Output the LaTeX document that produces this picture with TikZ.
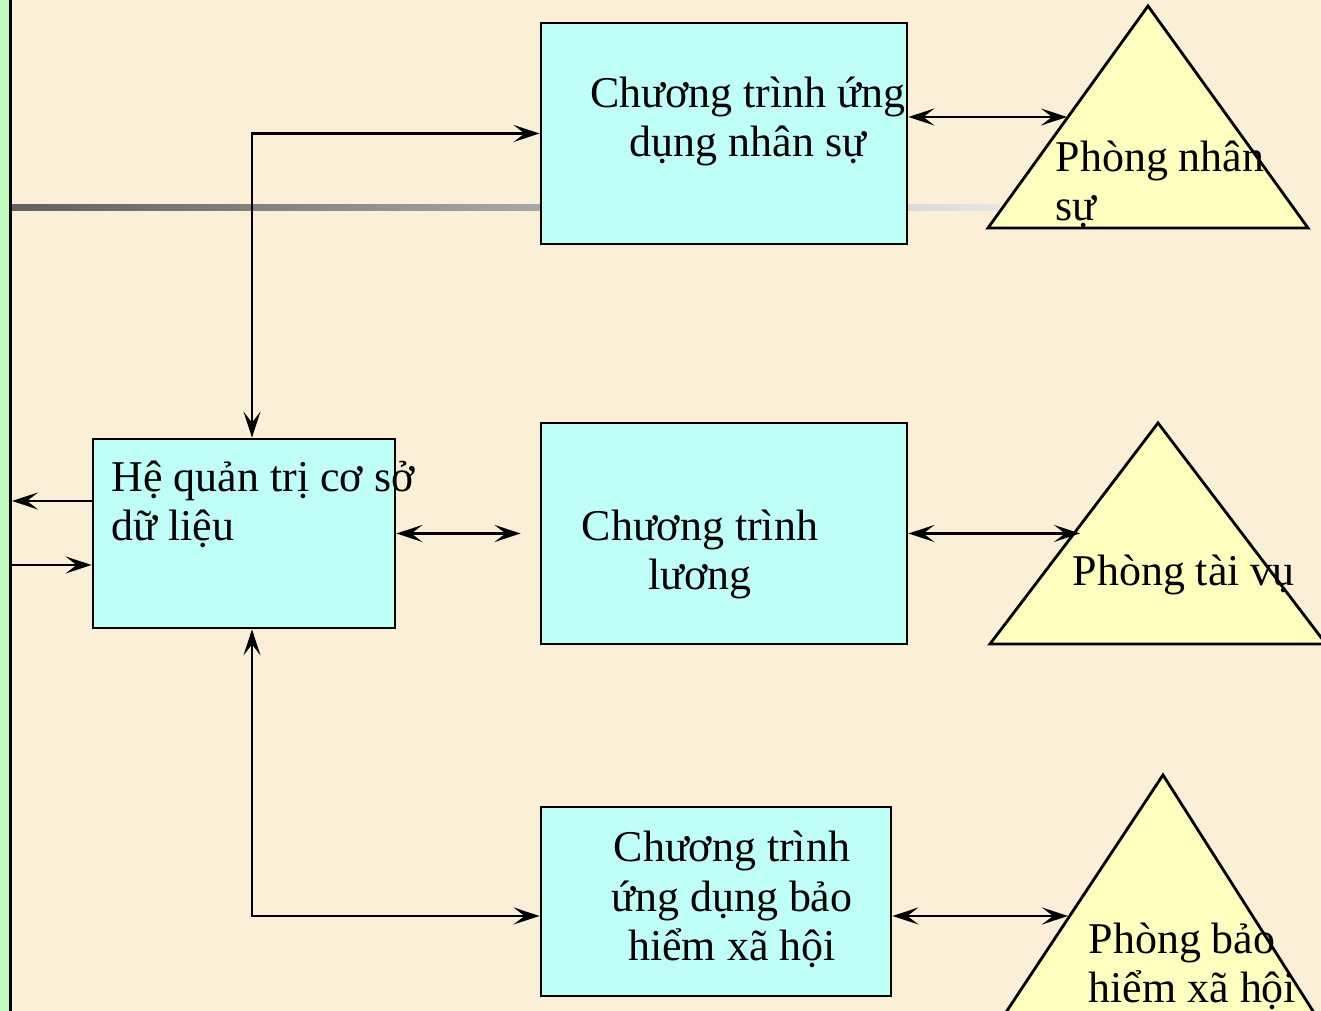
\documentclass[tikz,border=0pt]{standalone}
\usepackage{fontspec}
\setmainfont{Liberation Serif}
\usetikzlibrary{arrows.meta,calc}

\definecolor{nen}{RGB}{251,240,215}
\definecolor{le}{RGB}{192,252,192}
\definecolor{xanh}{RGB}{191,255,247}
\definecolor{vang}{RGB}{255,255,192}
\definecolor{xamdam}{RGB}{96,96,96}
\definecolor{xamnhat}{RGB}{230,230,230}

\begin{document}
\begin{tikzpicture}[
    hop/.style={draw=black, line width=0.8pt, fill=xanh, inner sep=0pt},
    chu/.style={font=\fontsize{12.5}{14.2}\selectfont, inner sep=0pt},
    tamgiac/.style={draw=black, line width=0.8pt, fill=vang},
    mui/.style={line width=0.75pt, -{Stealth[length=0.26cm,width=0.17cm,inset=0.11cm]}},
    haimui/.style={line width=0.75pt, {Stealth[length=0.26cm,width=0.17cm,inset=0.11cm]}-{Stealth[length=0.26cm,width=0.17cm,inset=0.11cm]}}
]
    \useasboundingbox (0,0) rectangle (13.21,10.11);
    \clip (0,0) rectangle (13.21,10.11);

    % Nen
    \fill[nen] (0,0) rectangle (13.21,10.11);
    \fill[le] (0,0) rectangle (0.09,10.11);
    \fill[black] (0.09,0) rectangle (0.12,10.11);
    \shade[left color=xamdam, right color=xamnhat] (0.12,8.00) rectangle (10.0,8.06);

    % Cac chuong trinh
    \node[hop, minimum width=3.66cm, minimum height=2.21cm] (nhansu) at (7.24,8.775) {};
    \node[chu, anchor=base, align=center] (nhansu-t) at (7.48,8.54) {Chương trình ứng\\dụng nhân sự};

    \node[hop, minimum width=3.66cm, minimum height=2.21cm] (luong) at (7.24,4.775) {};
    \node[chu, anchor=base, align=center] (luong-t) at (7.00,4.21) {Chương trình\\lương};

    \node[hop, minimum width=3.50cm, minimum height=1.89cm] (baohiem) at (7.16,1.095) {};
    \node[chu, anchor=base, align=center] (baohiem-t) at (7.32,0.50) {Chương trình\\ứng dụng bảo\\hiểm xã hội};

    % He quan tri CSDL
    \node[hop, minimum width=3.02cm, minimum height=1.89cm] (db) at (2.44,4.775) {};
    \node[chu, anchor=base west, align=left] (db-t) at (1.11,4.70) {Hệ quản trị cơ sở\\dữ liệu};

    % Cac phong
    \draw[tamgiac] (11.48,10.05) -- (9.88,7.83) -- (13.08,7.83) -- cycle;
    \node[chu, anchor=base west, align=left] (pns-t) at (10.55,7.90) {Phòng nhân\\sự};

    \draw[tamgiac] (11.58,5.88) -- (9.90,3.67) -- (13.26,3.67) -- cycle;
    \node[chu, anchor=base west] (ptv-t) at (10.72,4.25) {Phòng tài vụ};

    \draw[tamgiac] (11.63,2.36) -- (9.87,-0.30) -- (13.32,-0.30) -- cycle;
    \node[chu, anchor=base west, align=left] (pbh-t) at (10.88,0.08) {Phòng bảo\\hiểm xã hội};

    % Mui ten
    \coordinate (ra) at (0.12,5.10);
    \coordinate (vao) at (0.12,4.46);
    \coordinate (pns) at (10.67,8.94);
    \coordinate (ptv) at (10.80,4.775);
    \coordinate (pbh) at (10.68,0.95);

    \draw[mui] (db.west |- ra) -- (ra);
    \draw[mui] (vao) -- (db.west |- vao);
    \draw[haimui] ([xshift=0.08cm]db.north) |- (nhansu.west);
    \draw[haimui] ([xshift=0.08cm]db.south) |- ([yshift=-0.145cm]baohiem.west);
    \draw[haimui, shorten >=0.19cm] (db.east) -- (luong.west);
    \draw[haimui] (nhansu.east |- pns) -- (pns);
    \draw[haimui] (luong.east) -- (ptv);
    \draw[haimui] (baohiem.east |- pbh) -- (pbh);
\end{tikzpicture}
\end{document}
